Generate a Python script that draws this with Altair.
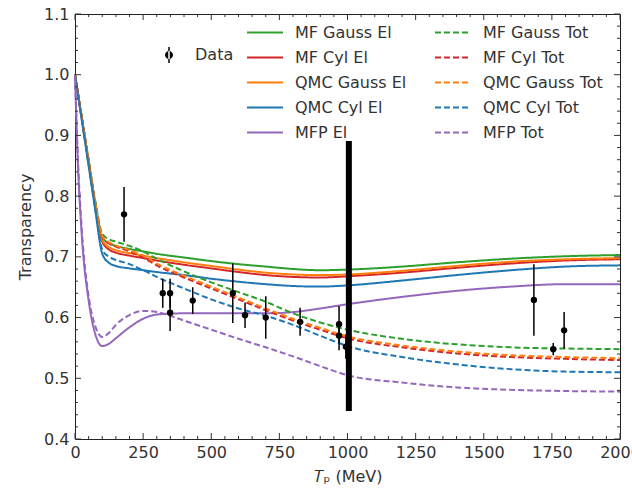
import altair as alt
import pandas as pd

# ---------------- data ----------------
x_grid = [0, 10, 25, 50, 75, 100, 125, 150, 200, 250, 300, 400, 500, 600, 700,
          800, 900, 1000, 1200, 1400, 1600, 1800, 2000]

mf_gauss_el = [1.0, 0.972, 0.929, 0.858, 0.787, 0.733, 0.722, 0.718, 0.713, 0.709, 0.705,
               0.699, 0.693, 0.688, 0.684, 0.680, 0.678, 0.679, 0.684, 0.691, 0.697, 0.701, 0.703]
mf_cyl_el = [1.0, 0.971, 0.928, 0.856, 0.784, 0.725, 0.712, 0.707, 0.702, 0.698, 0.694,
             0.687, 0.681, 0.675, 0.670, 0.667, 0.666, 0.668, 0.674, 0.682, 0.689, 0.694, 0.696]
qmc_gauss_el = [1.0, 0.971, 0.929, 0.857, 0.786, 0.728, 0.716, 0.711, 0.706, 0.702, 0.698,
                0.691, 0.685, 0.679, 0.674, 0.671, 0.670, 0.671, 0.677, 0.685, 0.692, 0.696, 0.698]
qmc_cyl_el = [1.0, 0.970, 0.925, 0.850, 0.775, 0.705, 0.690, 0.685, 0.681, 0.678, 0.675,
              0.670, 0.664, 0.659, 0.655, 0.652, 0.651, 0.653, 0.661, 0.670, 0.678, 0.684, 0.686]
mfp_el = [1.0, 0.860, 0.735, 0.628, 0.572, 0.553, 0.557, 0.566, 0.584, 0.598, 0.605,
          0.607, 0.607, 0.607, 0.607, 0.609, 0.615, 0.622, 0.634, 0.644, 0.651, 0.655, 0.655]

mf_gauss_tot = [1.0, 0.972, 0.930, 0.860, 0.790, 0.738, 0.729, 0.725, 0.718, 0.709, 0.697,
                0.676, 0.658, 0.642, 0.626, 0.607, 0.592, 0.580, 0.565, 0.556, 0.551, 0.549, 0.548]
mf_cyl_tot = [1.0, 0.971, 0.929, 0.857, 0.786, 0.732, 0.722, 0.717, 0.709, 0.699, 0.686,
              0.666, 0.648, 0.630, 0.612, 0.595, 0.580, 0.566, 0.551, 0.541, 0.535, 0.532, 0.530]
qmc_gauss_tot = [1.0, 0.971, 0.929, 0.858, 0.787, 0.734, 0.724, 0.719, 0.711, 0.702, 0.689,
                 0.669, 0.651, 0.633, 0.615, 0.598, 0.583, 0.569, 0.554, 0.544, 0.538, 0.535, 0.533]
qmc_cyl_tot = [1.0, 0.970, 0.926, 0.852, 0.778, 0.712, 0.700, 0.695, 0.688, 0.678, 0.667,
               0.648, 0.630, 0.615, 0.603, 0.588, 0.570, 0.553, 0.535, 0.523, 0.515, 0.511, 0.510]
mfp_tot = [1.0, 0.870, 0.745, 0.635, 0.585, 0.568, 0.575, 0.588, 0.604, 0.611, 0.609,
           0.595, 0.580, 0.565, 0.551, 0.536, 0.520, 0.505, 0.493, 0.485, 0.481, 0.479, 0.478]

series_names = ["MF Gauss El", "MF Cyl El", "QMC Gauss El", "QMC Cyl El", "MFP El",
                "MF Gauss Tot", "MF Cyl Tot", "QMC Gauss Tot", "QMC Cyl Tot", "MFP Tot"]
series_values = [mf_gauss_el, mf_cyl_el, qmc_gauss_el, qmc_cyl_el, mfp_el,
                 mf_gauss_tot, mf_cyl_tot, qmc_gauss_tot, qmc_cyl_tot, mfp_tot]
series_colors = ["#2ca02c", "#d62728", "#ff7f0e", "#1f77b4", "#9467bd",
                 "#2ca02c", "#d62728", "#ff7f0e", "#1f77b4", "#9467bd"]
series_dashes = [[1, 0]] * 5 + [[6, 3]] * 5

data_x = [180, 322, 349, 349, 432, 579, 624, 700, 826, 969, 969, 994, 1684, 1755, 1795]
data_y = [0.770, 0.640, 0.640, 0.608, 0.628, 0.640, 0.604, 0.600, 0.593, 0.589,
          0.570, 0.552, 0.629, 0.548, 0.579]
data_err = [0.045, 0.024, 0.024, 0.030, 0.022, 0.049, 0.021, 0.035, 0.023, 0.030,
            0.024, 0.020, 0.059, 0.010, 0.030]

bar_x = [1005]
bar_y = [0.446]
bar_y2 = [0.891]

x_major = [0, 250, 500, 750, 1000, 1250, 1500, 1750, 2000]
x_minor = [v for v in range(0, 2001, 50) if v % 250 != 0]
y_major = [0.4, 0.5, 0.6, 0.7, 0.8, 0.9, 1.0, 1.1]
y_minor = [round(0.4 + 0.02 * i, 2) for i in range(36) if i % 5 != 0]

# ---------------- frames ----------------
rows = []
for name, vals in zip(series_names, series_values):
    for xv, yv in zip(x_grid, vals):
        rows.append({"x": xv, "y": yv, "series": name})
curves = pd.DataFrame(rows)

pts = pd.DataFrame({"x": data_x, "y": data_y, "err": data_err})
pts["lo"] = pts["y"] - pts["err"]
pts["hi"] = pts["y"] + pts["err"]
pts["label"] = "Data"

bar = pd.DataFrame({"x": bar_x, "y": bar_y, "y2": bar_y2})

W, H = 545, 425
FONT = "DejaVu Sans"
FS = 16
TXT = "#333333"
xs = alt.Scale(domain=[0, 2000], nice=False, zero=False)
ys = alt.Scale(domain=[0.4, 1.1], nice=False, zero=False)

line_legend = alt.Legend(
    orient="none", legendX=177, legendY=5.5, columns=2, columnPadding=24,
    rowPadding=4, symbolType="M-1.5,0L1.5,0", symbolSize=576, symbolStrokeWidth=2,
    labelOffset=17, labelFontSize=FS, labelFont=FONT, labelColor=TXT,
    labelLimit=300, title=None, padding=0,
)

lines = alt.Chart(curves).mark_line(strokeWidth=2, interpolate="monotone").encode(
    x=alt.X("x:Q", scale=xs, axis=alt.Axis(
        orient="bottom", values=x_major, format="d", ticks=False, domain=False, grid=False,
        labelFontSize=FS, labelFont=FONT, labelColor=TXT, labelPadding=5,
        labelFlush=False, labelOverlap=False,
        title="𝑇ₚ (MeV)", titleFont=FONT, titleFontSize=FS, titleFontWeight="normal",
        titleColor=TXT, titlePadding=8)),
    y=alt.Y("y:Q", scale=ys, axis=alt.Axis(
        orient="left", values=y_major, format=".1f", ticks=False, domain=False, grid=False,
        labelFontSize=FS, labelFont=FONT, labelColor=TXT, labelPadding=6,
        labelFlush=False, labelOverlap=False,
        title="Transparency", titleFont=FONT, titleFontSize=FS, titleFontWeight="normal",
        titleColor=TXT, titlePadding=10)),
    color=alt.Color("series:N", scale=alt.Scale(domain=series_names, range=series_colors),
                    sort=series_names, legend=line_legend),
    strokeDash=alt.StrokeDash("series:N", scale=alt.Scale(domain=series_names, range=series_dashes),
                              sort=series_names, legend=line_legend),
)

errbars = alt.Chart(pts).mark_rule(color="black", strokeWidth=1.5).encode(
    x=alt.X("x:Q", scale=xs, axis=None),
    y=alt.Y("lo:Q", scale=ys, axis=None),
    y2="hi:Q",
)

data_symbol = ("M-0.8,0A0.8,0.8,0,1,0,0.8,0A0.8,0.8,0,1,0,-0.8,0Z"
               "M-0.15,-1.6L0.15,-1.6L0.15,1.6L-0.15,1.6Z")
points = alt.Chart(pts).mark_circle(size=40, opacity=1).encode(
    x=alt.X("x:Q", scale=xs, axis=None),
    y=alt.Y("y:Q", scale=ys, axis=None),
    fill=alt.Fill("label:N", scale=alt.Scale(domain=["Data"], range=["black"]),
                  legend=alt.Legend(orient="none", legendX=86, legendY=33,
                                    symbolType=data_symbol, symbolSize=100,
                                    symbolStrokeWidth=0, labelOffset=18,
                                    labelFontSize=FS, labelFont=FONT, labelColor=TXT,
                                    title=None, padding=0)),
)

annot = alt.Chart(bar).mark_rule(color="black", strokeWidth=6).encode(
    x=alt.X("x:Q", scale=xs, axis=None),
    y=alt.Y("y:Q", scale=ys, axis=None),
    y2="y2:Q",
)

# inward tick marks on all four sides (matplotlib style)
xmaj = pd.DataFrame({"v": x_major})
xmin = pd.DataFrame({"v": x_minor})
ymaj = pd.DataFrame({"v": y_major})
ymin = pd.DataFrame({"v": y_minor})


def xticks(df, y0, y1):
    return alt.Chart(df).mark_rule(color=TXT, strokeWidth=1).encode(
        x=alt.X("v:Q", scale=xs, axis=None), y=alt.value(y0), y2=alt.value(y1))


def yticks(df, x0, x1):
    return alt.Chart(df).mark_rule(color=TXT, strokeWidth=1).encode(
        y=alt.Y("v:Q", scale=ys, axis=None), x=alt.value(x0), x2=alt.value(x1))


ticks = [
    xticks(xmaj, H, H - 6), xticks(xmin, H, H - 3),
    xticks(xmaj, 0, 6), xticks(xmin, 0, 3),
    yticks(ymaj, 0, 6), yticks(ymin, 0, 3),
    yticks(ymaj, W, W - 6), yticks(ymin, W, W - 3),
]

chart = alt.layer(
    lines, errbars, points, annot, *ticks
).resolve_axis(
    x="independent", y="independent"
).properties(
    width=W, height=H,
    autosize=alt.AutoSizeParams(type="none"),
    padding={"left": 75, "top": 14, "right": 12, "bottom": 55},
    background="white",
).configure_view(stroke="#222222", strokeWidth=1)

chart.save("out.html", embed_options={"renderer": "svg", "actions": False})
